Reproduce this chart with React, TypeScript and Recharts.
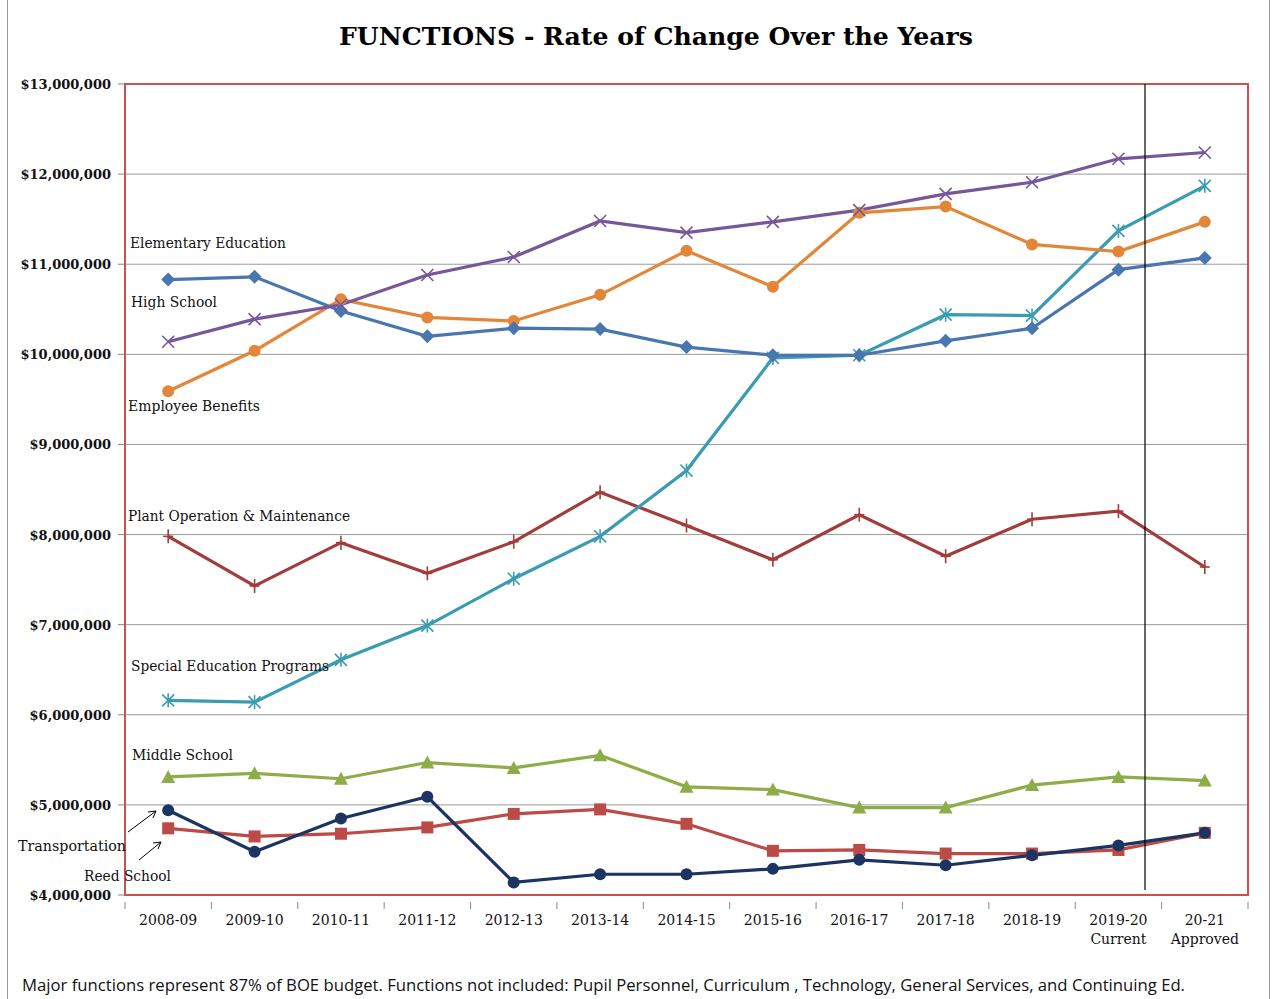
import React from 'react';
import { LineChart, Line, XAxis, YAxis, CartesianGrid } from 'recharts';

const years = ['2008-09', '2009-10', '2010-11', '2011-12', '2012-13', '2013-14', '2014-15', '2015-16', '2016-17', '2017-18', '2018-19', '2019-20', '20-21'];
const yearSub = ['', '', '', '', '', '', '', '', '', '', '', 'Current', 'Approved'];
const yTicks = [4000000, 5000000, 6000000, 7000000, 8000000, 9000000, 10000000, 11000000, 12000000, 13000000];

const elementary = [10140000, 10390000, 10550000, 10880000, 11080000, 11480000, 11350000, 11470000, 11600000, 11780000, 11910000, 12170000, 12240000];
const highSchool = [10830000, 10860000, 10480000, 10200000, 10290000, 10280000, 10080000, 9990000, 9990000, 10150000, 10290000, 10940000, 11070000];
const benefits = [9590000, 10040000, 10610000, 10410000, 10370000, 10660000, 11150000, 10750000, 11570000, 11640000, 11220000, 11140000, 11470000];
const specialEd = [6160000, 6140000, 6610000, 6990000, 7510000, 7980000, 8710000, 9960000, 9990000, 10440000, 10430000, 11370000, 11870000];
const plantOps = [7980000, 7430000, 7910000, 7570000, 7920000, 8470000, 8100000, 7720000, 8220000, 7760000, 8170000, 8260000, 7640000];
const middleSchool = [5310000, 5350000, 5290000, 5470000, 5410000, 5550000, 5200000, 5170000, 4970000, 4970000, 5220000, 5310000, 5270000];
const transportation = [4740000, 4650000, 4680000, 4750000, 4900000, 4950000, 4790000, 4490000, 4500000, 4460000, 4460000, 4500000, 4690000];
const reedSchool = [4940000, 4480000, 4850000, 5090000, 4140000, 4230000, 4230000, 4290000, 4390000, 4330000, 4440000, 4550000, 4690000];

const data = years.map((y, i) => ({
  year: y,
  elementary: elementary[i],
  highSchool: highSchool[i],
  benefits: benefits[i],
  specialEd: specialEd[i],
  plantOps: plantOps[i],
  middleSchool: middleSchool[i],
  transportation: transportation[i],
  reedSchool: reedSchool[i],
}));

const W = 1273;
const H = 999;
const PL = 125, PR = 1248, PT = 84, PB = 895;
const BW = (PR - PL) / years.length;
const SERIF = "'DejaVu Serif', serif";

type Shape = 'diamond' | 'circle' | 'x' | 'asterisk' | 'plus' | 'triangle' | 'square';

const makeDot = (shape: Shape, color: string) => (props: any) => {
  const { cx, cy, index } = props;
  if (cx == null || cy == null) return <g key={index} />;
  let el: React.ReactNode = null;
  switch (shape) {
    case 'diamond':
      el = <polygon points={`${cx},${cy - 7} ${cx + 7},${cy} ${cx},${cy + 7} ${cx - 7},${cy}`} fill={color} />;
      break;
    case 'circle':
      el = <circle cx={cx} cy={cy} r={6} fill={color} />;
      break;
    case 'x':
      el = (
        <g stroke={color} strokeWidth={1.6}>
          <line x1={cx - 6} y1={cy - 6} x2={cx + 6} y2={cy + 6} />
          <line x1={cx - 6} y1={cy + 6} x2={cx + 6} y2={cy - 6} />
        </g>
      );
      break;
    case 'asterisk':
      el = (
        <g stroke={color} strokeWidth={1.6}>
          <line x1={cx - 6} y1={cy - 6} x2={cx + 6} y2={cy + 6} />
          <line x1={cx - 6} y1={cy + 6} x2={cx + 6} y2={cy - 6} />
          <line x1={cx} y1={cy - 7} x2={cx} y2={cy + 7} />
        </g>
      );
      break;
    case 'plus':
      el = (
        <g stroke={color} strokeWidth={1.6}>
          <line x1={cx} y1={cy - 7} x2={cx} y2={cy + 7} />
          <line x1={cx - 5} y1={cy} x2={cx + 5} y2={cy} />
        </g>
      );
      break;
    case 'triangle':
      el = <polygon points={`${cx},${cy - 7} ${cx + 7},${cy + 6} ${cx - 7},${cy + 6}`} fill={color} />;
      break;
    case 'square':
      el = <rect x={cx - 6} y={cy - 6} width={12} height={12} fill={color} />;
      break;
  }
  return <g key={index}>{el}</g>;
};

const XTick = (props: any) => {
  const { x, y, payload, index } = props;
  const sub = yearSub[index];
  return (
    <g>
      <line x1={x - BW / 2} y1={y - 1} x2={x - BW / 2} y2={y + 6} stroke="#888" strokeWidth={1} />
      {index === years.length - 1 && (
        <line x1={x + BW / 2} y1={y - 1} x2={x + BW / 2} y2={y + 6} stroke="#888" strokeWidth={1} />
      )}
      <text x={x} y={y + 22} textAnchor="middle" fontFamily={SERIF} fontSize={14} fill="#111">{payload.value}</text>
      {sub && <text x={x} y={y + 41} textAnchor="middle" fontFamily={SERIF} fontSize={14} fill="#111">{sub}</text>}
    </g>
  );
};

const YTick = (props: any) => {
  const { x, y, payload } = props;
  return (
    <text x={x - 5} y={y + 5} textAnchor="end" fontFamily={SERIF} fontSize={13} fontWeight={600} fill="#111">
      {'$' + Number(payload.value).toLocaleString('en-US')}
    </text>
  );
};

const series: { key: string; color: string; shape: Shape }[] = [
  { key: 'plantOps', color: '#A13D3A', shape: 'plus' },
  { key: 'middleSchool', color: '#8EAC47', shape: 'triangle' },
  { key: 'transportation', color: '#BC4A46', shape: 'square' },
  { key: 'reedSchool', color: '#1B3461', shape: 'circle' },
  { key: 'specialEd', color: '#3A9CB2', shape: 'asterisk' },
  { key: 'benefits', color: '#E2873A', shape: 'circle' },
  { key: 'highSchool', color: '#4A76B0', shape: 'diamond' },
  { key: 'elementary', color: '#76579A', shape: 'x' },
];

const labels = [
  { text: 'Elementary Education', x: 130, y: 248, len: 156 },
  { text: 'High School', x: 131, y: 307, len: 86 },
  { text: 'Employee Benefits', x: 128, y: 411, len: 132 },
  { text: 'Plant Operation & Maintenance', x: 128, y: 521, len: 222 },
  { text: 'Special Education Programs', x: 131, y: 671, len: 198 },
  { text: 'Middle School', x: 132, y: 760, len: 101 },
  { text: 'Transportation', x: 18, y: 851, len: 108 },
  { text: 'Reed School', x: 84, y: 881, len: 87 },
];

export default function App() {
  return (
    <div style={{ position: 'absolute', left: 0, top: 0, width: W, height: H, background: '#fff' }}>
      <LineChart
        width={W}
        height={H}
        data={data}
        margin={{ top: PT, right: W - PR, bottom: H - PB - 60, left: PL - 120 }}
      >
        <CartesianGrid vertical={false} stroke="#9a9a9a" strokeWidth={1} />
        <XAxis dataKey="year" scale="band" height={60} axisLine={false} tickLine={false} tick={<XTick />} interval={0} />
        <YAxis
          width={120}
          domain={[4000000, 13000000]}
          ticks={yTicks}
          type="number"
          tick={<YTick />}
          tickLine={{ stroke: '#888' }}
          tickSize={7}
          axisLine={{ stroke: '#888' }}
          interval={0}
        />
        {series.map((s) => (
          <Line
            key={s.key}
            dataKey={s.key}
            stroke={s.color}
            strokeWidth={3.2}
            dot={makeDot(s.shape, s.color)}
            activeDot={false}
            isAnimationActive={false}
          />
        ))}
      </LineChart>
      <svg width={W} height={H} style={{ position: 'absolute', left: 0, top: 0, pointerEvents: 'none' }}>
        <line x1={7.5} y1={0} x2={7.5} y2={H} stroke="#999" />
        <line x1={1269.5} y1={0} x2={1269.5} y2={H} stroke="#999" />
        <rect x={PL} y={PT} width={PR - PL} height={PB - PT} fill="none" stroke="#C9524F" strokeWidth={2} />
        <line x1={1145} y1={PT} x2={1145} y2={890} stroke="#000" strokeWidth={1.2} />
        <text x={339} y={45} fontFamily={SERIF} fontWeight={700} fontSize={24} textLength={634} lengthAdjust="spacingAndGlyphs" fill="#000">
          FUNCTIONS - Rate of Change Over the Years
        </text>
        {labels.map((l) => (
          <text key={l.text} x={l.x} y={l.y} fontFamily={SERIF} fontSize={14} textLength={l.len} lengthAdjust="spacingAndGlyphs" fill="#111">
            {l.text}
          </text>
        ))}
        <g stroke="#000" strokeWidth={1}>
          <line x1={128} y1={832} x2={156} y2={811} />
          <polyline points="148,812 156,811 153,818" fill="none" />
          <line x1={139} y1={860} x2={161} y2={842} />
          <polyline points="153,843 161,842 158,849" fill="none" />
        </g>
        <text x={22} y={991} fontFamily="'Open Sans', sans-serif" fontSize={16} textLength={1163} lengthAdjust="spacingAndGlyphs" fill="#111">
          Major functions represent 87% of BOE budget. Functions not included: Pupil Personnel, Curriculum , Technology, General Services, and Continuing Ed.
        </text>
      </svg>
    </div>
  );
}
